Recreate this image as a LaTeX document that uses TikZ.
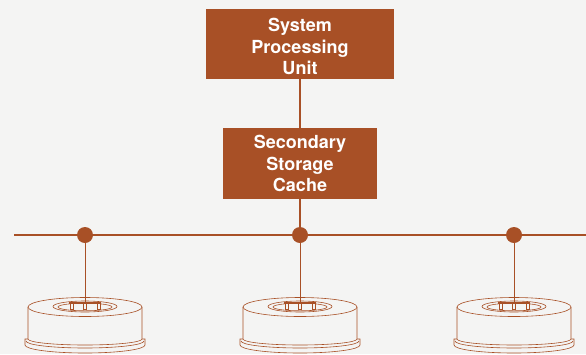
\documentclass[tikz,border=0pt]{standalone}
\usepackage{fontspec}
\setmainfont{TeX Gyre Heros}
\usetikzlibrary{positioning, calc}
\definecolor{rust}{RGB}{168,80,38}
\definecolor{paper}{RGB}{244,244,243}

\begin{document}
\begin{tikzpicture}[x=1pt, y=-1pt,
  unit/.style={fill=rust, text=white, font=\bfseries\fontsize{18}{21.5}\selectfont, align=center, inner sep=0pt},
  bus/.style={rust, line width=1.3pt},
  tap/.style={circle, fill=rust, minimum size=16pt, inner sep=0pt},
  disk/.style={rust, line width=0.6pt}]

% page
\fill[paper] (0,0) rectangle (586,354);
\useasboundingbox (0,0) rectangle (586,354);

% Processing unit and cache
\node[unit, minimum width=188pt, minimum height=70pt] (spu) at (300,44) {\rule{0pt}{19pt}System\\Processing\\Unit};
\node[unit, minimum width=154pt, minimum height=71pt] (cache) at (300,163.5) {Secondary\\Storage\\Cache};

% Bus with taps
\coordinate (busL) at (14,235);
\coordinate (busR) at (586,235);
\draw[bus] (busL) -- (busR);
\foreach \i/\x in {1/85, 2/300, 3/514} {
  \node[tap] (tap\i) at (\x,235) {};
}
\draw[bus] (spu) -- (cache);
\draw[bus] (cache) -- (tap2);

% Disk drives
\foreach \i/\x in {1/85, 2/300, 3/514} {
  % flange
  \draw[disk, fill=paper] (\x-57,339) -- (\x-60,339) -- (\x-60,345)
    arc[start angle=180, end angle=360, x radius=60pt, y radius=8pt] -- (\x+60,339) -- (\x+57,339);
  \draw[disk] (\x-59,341) arc[start angle=180, end angle=360, x radius=59pt, y radius=7pt];
  % body
  \draw[disk, fill=paper] (\x-57,307) -- (\x-57,339)
    arc[start angle=180, end angle=360, x radius=57pt, y radius=6pt] -- (\x+57,307);
  \draw[disk, fill=paper] (\x,307) ellipse[x radius=57pt, y radius=9.5pt];
  % hub
  \draw[disk] (\x,306.5) ellipse[x radius=32pt, y radius=5.5pt];
  \draw[disk] (\x,307) ellipse[x radius=27pt, y radius=3.8pt];
  \fill[rust] (\x-16,301.5) rectangle (\x+16,304);
  \foreach \d in {-13.5, 0, 13.5} {
    \draw[disk, fill=paper] (\x+\d-1.6,303) rectangle (\x+\d+1.6,309.5);
  }
  \coordinate (hub\i) at (\x,301.5);
  \draw[rust, line width=1pt] (tap\i) -- (hub\i);
}

\end{tikzpicture}
\end{document}
